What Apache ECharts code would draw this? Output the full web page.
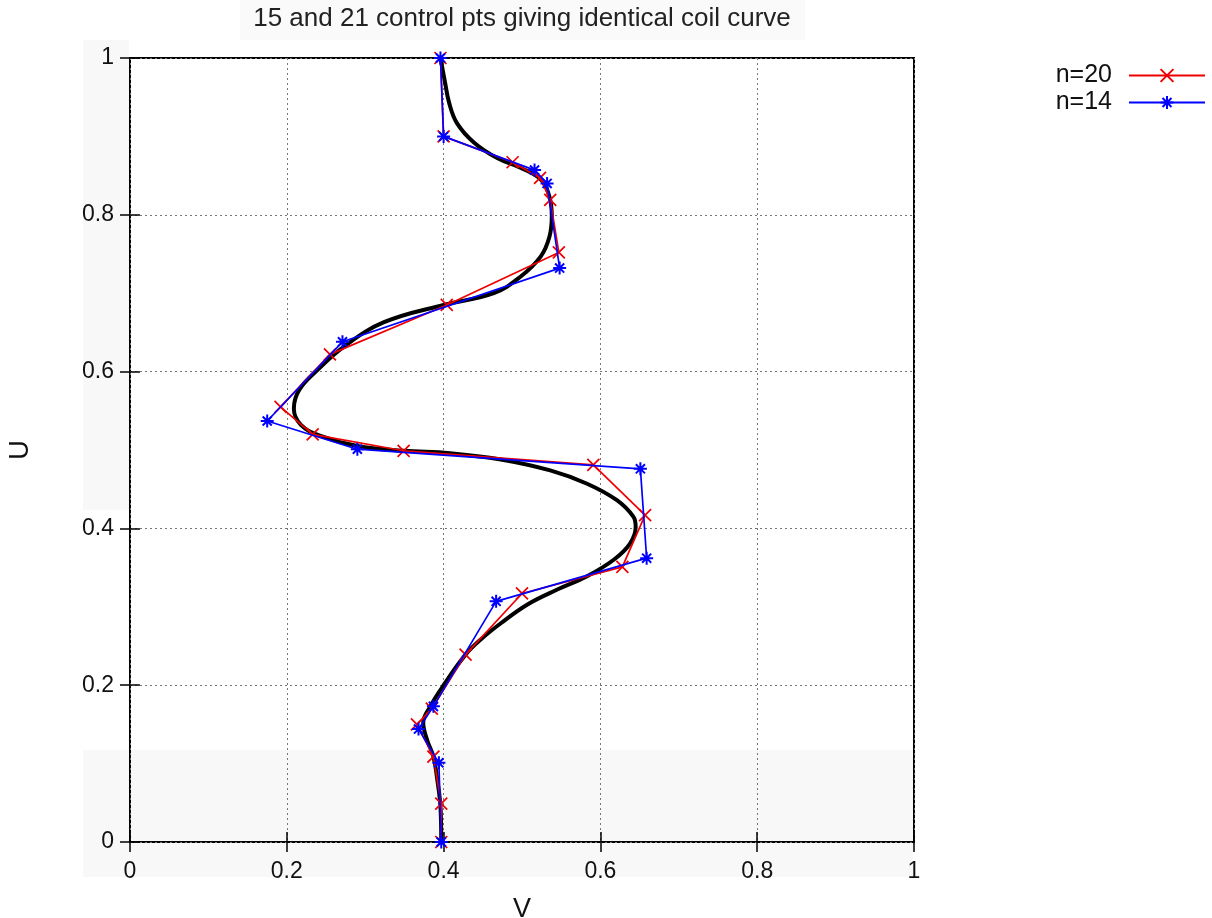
<!DOCTYPE html>
<html>
<head>
<meta charset="utf-8">
<title>coil curve</title>
<script src="https://cdn.jsdelivr.net/npm/echarts@6/dist/echarts.min.js"></script>
<style>
  html, body { margin: 0; padding: 0; background: #fff; }
  #chart { width: 1212px; height: 918px; }
</style>
</head>
<body>
<div id="chart"></div>
<script>
// black coil curve (V, U), top to bottom
const curveV = [0.396, 0.402, 0.407, 0.417, 0.439, 0.469, 0.498, 0.524, 0.535, 0.538, 0.535, 0.524, 0.498, 0.464,
  0.400, 0.324, 0.273, 0.239, 0.216, 0.209, 0.218, 0.243, 0.290, 0.349, 0.408, 0.473, 0.536, 0.583, 0.621,
  0.642, 0.645, 0.638, 0.617, 0.583, 0.545, 0.507, 0.473, 0.447, 0.428, 0.400, 0.383, 0.374, 0.379, 0.387,
  0.392, 0.396, 0.397];
const curveU = [1.000, 0.968, 0.943, 0.917, 0.892, 0.872, 0.860, 0.845, 0.823, 0.798, 0.772, 0.747, 0.721, 0.700,
  0.685, 0.663, 0.632, 0.602, 0.577, 0.553, 0.532, 0.518, 0.505, 0.499, 0.496, 0.488, 0.474, 0.457, 0.436,
  0.415, 0.402, 0.381, 0.360, 0.339, 0.322, 0.303, 0.279, 0.258, 0.239, 0.200, 0.173, 0.152, 0.130, 0.109,
  0.079, 0.045, 0.000];

// n=20 control polygon (21 points)
const n20V = [0.396, 0.400, 0.488, 0.523, 0.536, 0.547, 0.404, 0.255, 0.192, 0.233, 0.349,
  0.591, 0.657, 0.628, 0.500, 0.428, 0.385, 0.366, 0.387, 0.397, 0.397];
const n20U = [1.000, 0.900, 0.867, 0.847, 0.819, 0.752, 0.685, 0.622, 0.555, 0.520, 0.499,
  0.481, 0.417, 0.351, 0.317, 0.239, 0.170, 0.150, 0.109, 0.049, 0.000];

// n=14 control polygon (15 points)
const n14V = [0.396, 0.400, 0.516, 0.532, 0.548, 0.271, 0.175, 0.290, 0.651, 0.659, 0.467, 0.387, 0.368, 0.394, 0.397];
const n14U = [1.000, 0.900, 0.857, 0.840, 0.732, 0.638, 0.537, 0.501, 0.476, 0.362, 0.307, 0.173, 0.144, 0.101, 0.000];

const zip = (a, b) => a.map((v, i) => [v, b[i]]);

const font = '"Liberation Sans", Arial, sans-serif';
const crossSym = 'path://M0,0L10,10M10,0L0,10';
const starSym = 'path://M5,0L5,10M0,5L10,5M1.5,1.5L8.5,8.5M8.5,1.5L1.5,8.5';

const chart = echarts.init(document.getElementById('chart'));

// gnuplot style: box border, dotted grid, ticks inside on all four sides
function axisBase(labels, margin) {
  return {
    type: 'value', min: 0, max: 1, interval: 0.2,
    axisLine: { show: false },
    axisTick: { show: true, inside: true, length: 10, lineStyle: { color: '#000', width: 1.5 } },
    axisLabel: { show: labels, fontSize: 23, color: '#111', fontFamily: font, margin: margin },
    splitLine: { show: labels, lineStyle: { color: '#777', width: 1, type: [2, 3] } },
  };
}

const option = {
  backgroundColor: '#fff',
  animation: false,
  graphic: [
    { type: 'rect', z: -10, shape: { x: 83, y: 40, width: 46, height: 470 }, style: { fill: '#f8f8f8' } },
    { type: 'rect', z: -10, shape: { x: 83, y: 750, width: 830, height: 127 }, style: { fill: '#f8f8f8' } },
    { type: 'rect', z: -10, shape: { x: 240, y: 0, width: 565, height: 40 }, style: { fill: '#fafafa' } },
    {
      type: 'text', x: 522, y: 6, z: 10,
      style: { text: '15 and 21 control pts giving identical coil curve', font: '26px ' + font, fill: '#222', textAlign: 'center' },
    },
  ],
  grid: {
    left: 130, top: 58, width: 784, height: 784, outerBoundsMode: 'none', containLabel: false,
    show: true, borderColor: '#000', borderWidth: 2, backgroundColor: 'transparent',
  },
  legend: {
    orient: 'vertical', right: 1, top: 58, align: 'right',
    itemWidth: 76, itemHeight: 16, itemGap: 2,
    textStyle: { fontSize: 25, color: '#111', fontFamily: font, padding: [0, 12, 0, 0] },
    data: ['n=20', 'n=14'],
  },
  xAxis: [
    Object.assign(axisBase(true, 18), { position: 'bottom', name: 'V', nameLocation: 'middle', nameGap: 54,
      nameTextStyle: { fontSize: 27, color: '#111', fontFamily: font } }),
    Object.assign(axisBase(false, 0), { position: 'top' }),
  ],
  yAxis: [
    Object.assign(axisBase(true, 16), { position: 'left', name: 'U', nameLocation: 'middle', nameGap: 96,
      nameTextStyle: { fontSize: 27, color: '#111', fontFamily: font } }),
    Object.assign(axisBase(false, 0), { position: 'right' }),
  ],
  series: [
    {
      name: 'curve', type: 'line', data: zip(curveV, curveU), smooth: 0.4, showSymbol: false,
      lineStyle: { color: '#000', width: 4 }, z: 2,
    },
    {
      name: 'n=20', type: 'line', data: zip(n20V, n20U), symbol: crossSym, symbolSize: 12,
      itemStyle: { color: 'transparent', borderColor: '#e00', borderWidth: 1.7 },
      lineStyle: { color: '#e00', width: 1.7 }, z: 3,
    },
    {
      name: 'n=14', type: 'line', data: zip(n14V, n14U), symbol: starSym, symbolSize: 13,
      itemStyle: { color: 'transparent', borderColor: '#00f', borderWidth: 2 },
      lineStyle: { color: '#00f', width: 1.7 }, z: 4,
    },
  ],
};

chart.setOption(option);
</script>
</body>
</html>
